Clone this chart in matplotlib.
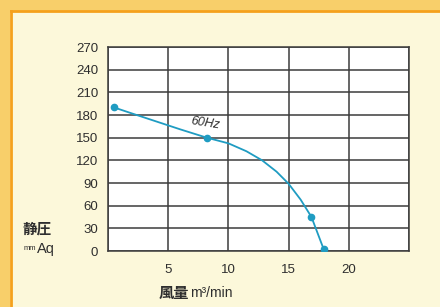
import matplotlib
matplotlib.use("Agg")
import matplotlib.pyplot as plt
from matplotlib.patches import Rectangle

# fan curve (60Hz)
flow = [0.5, 2, 4, 6, 8.2, 10, 11.5, 12.8, 14, 15, 16, 16.9, 17.9]
pressure = [190, 182, 171.5, 161, 150, 142.5, 132, 120, 105, 89, 68, 45, 3]
marker_flow = [0.5, 8.2, 16.9, 17.9]
marker_pressure = [190, 150, 45, 3]

x_ticks = [0, 5, 10, 15, 20, 25]
x_tick_labels = ["", "5", "10", "15", "20", ""]
y_ticks = [0, 30, 60, 90, 120, 150, 180, 210, 240, 270]

LINE = "#1f9cc2"
GRID = "#3c3c3c"
TEXT = "#2e2e2e"
CJK = ["Noto Sans CJK JP", "DejaVu Sans"]

fig = plt.figure(figsize=(4.4, 3.07), dpi=100)
fig.patch.set_facecolor("#fcf8da")

# orange paper edge and frame line
fig.patches.append(Rectangle((0, 0), 0.023, 1, transform=fig.transFigure,
                             facecolor="#f8cf6a", edgecolor="none", zorder=0))
fig.patches.append(Rectangle((0, 0.965), 1, 0.035, transform=fig.transFigure,
                             facecolor="#f8cf6a", edgecolor="none", zorder=0))
fig.add_artist(plt.Line2D([0.025, 0.025], [0, 0.963], transform=fig.transFigure,
                          color="#f5a11c", lw=2.0))
fig.add_artist(plt.Line2D([0.025, 1], [0.963, 0.963], transform=fig.transFigure,
                          color="#f5a11c", lw=2.0))

ax = fig.add_axes([0.2455, 0.1824, 0.684, 0.6645])
ax.set_facecolor("white")

ax.plot(flow, pressure, color=LINE, lw=1.3, zorder=3)
ax.plot(marker_flow, marker_pressure, "o", color=LINE, ms=4.5, zorder=4)
ax.text(8.1, 169, "60Hz", rotation=-9, fontsize=9, style="italic",
        color=TEXT, ha="center", va="center", family="Liberation Sans")

ax.set_xlim(0, 25)
ax.set_ylim(0, 270)
ax.set_xticks(x_ticks)
ax.set_xticklabels(x_tick_labels)
ax.set_yticks(y_ticks)
ax.grid(True, color=GRID, lw=1.1)
ax.set_axisbelow(True)
for s in ax.spines.values():
    s.set_color(GRID)
    s.set_linewidth(1.1)

ax.tick_params(length=0, colors=TEXT, labelsize=9.5)
ax.tick_params(axis="x", pad=9)
ax.tick_params(axis="y", pad=7)
for lab in ax.get_xticklabels() + ax.get_yticklabels():
    lab.set_family("Liberation Sans")

# axis titles
fig.text(0.085, 0.255, "静圧", fontsize=10.5, fontweight="bold", color=TEXT,
         family=CJK, ha="center", va="center")
fig.text(0.053, 0.192, "mm", fontsize=5.5, color=TEXT, family="Liberation Sans",
         ha="left", va="center")
fig.text(0.083, 0.188, "Aq", fontsize=10.5, color=TEXT, family="Liberation Sans",
         ha="left", va="center")
fig.text(0.361, 0.045, "風量", fontsize=11, fontweight="bold", color=TEXT,
         family=CJK, ha="left", va="center")
fig.text(0.432, 0.045, "m³/min", fontsize=10, color=TEXT, family="Liberation Sans",
         ha="left", va="center")

fig.savefig("out.png", dpi=100, facecolor=fig.get_facecolor())
